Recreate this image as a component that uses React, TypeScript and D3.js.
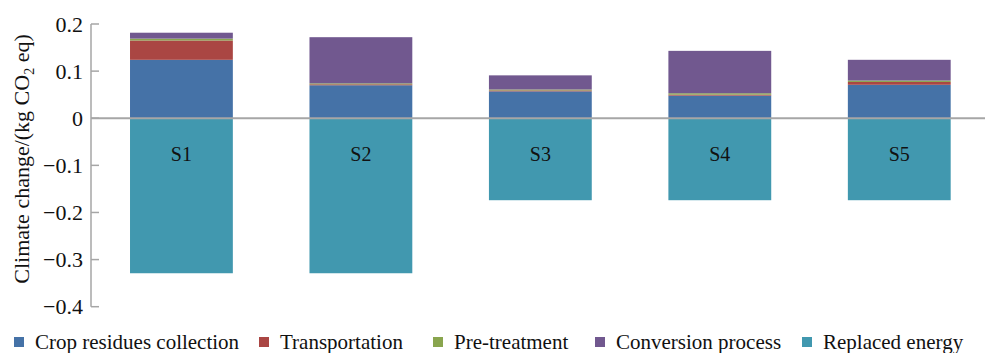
import React from "react";
import * as d3 from "d3";

const scenarios = ["S1", "S2", "S3", "S4", "S5"];
const stages = [
  "Crop residues collection",
  "Transportation",
  "Pre-treatment",
  "Conversion process",
  "Replaced energy",
];
const cropCollection = [0.124, 0.07, 0.057, 0.048, 0.071];
const transportation = [0.041, 0.002, 0.002, 0.002, 0.006];
const pretreatment = [0.004, 0.002, 0.002, 0.003, 0.003];
const conversion = [0.0125, 0.098, 0.03, 0.09, 0.044];
const replacedEnergy = [-0.329, -0.329, -0.174, -0.174, -0.174];
const yTicks = [0.2, 0.1, 0, -0.1, -0.2, -0.3, -0.4];
const colors = ["#4572A7", "#AA4643", "#89A54E", "#71588F", "#4198AF"];

const W = 985;
const H = 353;
const axisX = 91;
const font = "Liberation Serif, Times New Roman, DejaVu Serif, serif";
// legend square x positions
const legendX = [14, 259, 433, 595, 802];

export default function App() {
  const rows = scenarios.map((s, i) => ({
    name: s,
    [stages[0]]: cropCollection[i],
    [stages[1]]: transportation[i],
    [stages[2]]: pretreatment[i],
    [stages[3]]: conversion[i],
    [stages[4]]: replacedEnergy[i],
  }));

  const series = d3
    .stack<any>()
    .keys(stages)
    .offset(d3.stackOffsetDiverging)(rows);

  const x = d3
    .scaleBand()
    .domain(scenarios)
    .range([axisX + 0.7, 989])
    .paddingInner(0.427)
    .paddingOuter(0.2135);

  const y = d3.scaleLinear().domain([-0.4, 0.2]).range([306.7, 24]);

  const fmt = (v: number) => (v === 0 ? "0" : d3.format(".1f")(v).replace("-", "\u2212"));

  return (
    <svg
      width={W}
      height={H}
      style={{ position: "absolute", left: 0, top: 0, background: "#fff", fontFamily: font }}
    >
      {/* bars */}
      {series.map((s, si) => (
        <g key={s.key} fill={colors[si]}>
          {s.map((d, i) => (
            <rect
              key={i}
              x={x(scenarios[i])}
              width={x.bandwidth()}
              y={y(Math.max(d[0], d[1]))}
              height={Math.abs(y(d[0]) - y(d[1]))}
            />
          ))}
        </g>
      ))}

      {/* zero line */}
      <line x1={axisX} x2={W} y1={y(0)} y2={y(0)} stroke="#a6a6a6" strokeWidth={2} />

      {/* y axis */}
      <line x1={axisX} x2={axisX} y1={y(0.2)} y2={y(-0.4)} stroke="#a6a6a6" strokeWidth={1.5} />
      {yTicks.map((t) => (
        <g key={t}>
          <line x1={axisX} x2={axisX + 8} y1={y(t)} y2={y(t)} stroke="#a6a6a6" strokeWidth={1.5} />
          <text
            x={83}
            y={y(t)}
            dy="0.35em"
            textAnchor="end"
            fontSize={22}
            fill="#111"
          >
            {fmt(t)}
          </text>
        </g>
      ))}

      {/* scenario labels */}
      {scenarios.map((s) => (
        <text
          key={s}
          x={x(s)! + x.bandwidth() / 2}
          y={y(-0.075)}
          dy="0.35em"
          textAnchor="middle"
          fontSize={20}
          fill="#111"
        >
          {s}
        </text>
      ))}

      {/* y title */}
      <text
        transform={`translate(29, ${159}) rotate(-90)`}
        textAnchor="middle"
        fontSize={22}
        fill="#111"
      >
        Climate change/(kg CO
        <tspan fontSize={14} dy={5}>
          2
        </tspan>
        <tspan dy={-5}> eq)</tspan>
      </text>

      {/* legend */}
      {stages.map((s, i) => (
        <g key={s} transform={`translate(${legendX[i]}, 342)`}>
          <rect x={0} y={-5} width={10} height={10} fill={colors[i]} />
          <text x={21} y={0} dy="0.35em" fontSize={21} fill="#111">
            {s}
          </text>
        </g>
      ))}
    </svg>
  );
}
